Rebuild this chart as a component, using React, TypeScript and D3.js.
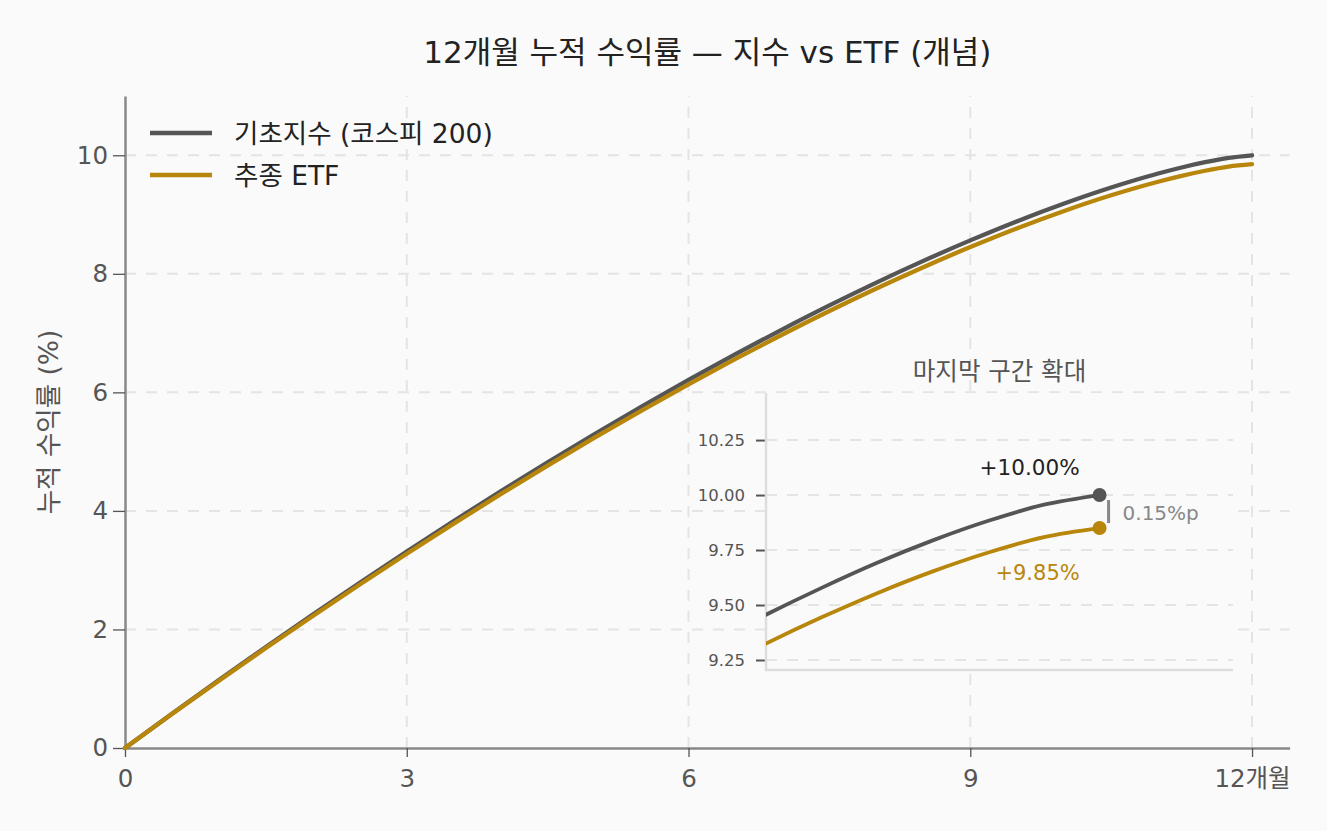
import React, { useRef, useEffect } from 'react'
import * as d3 from 'd3'

// months (half-month steps, quarter steps over the last stretch)
const months = [0, 0.5, 1, 1.5, 2, 2.5, 3, 3.5, 4, 4.5, 5, 5.5, 6, 6.5, 7, 7.5, 8, 8.5, 9, 9.5, 10, 10.5, 10.75, 11, 11.25, 11.5, 11.75, 12]
const indexReturn = [0, 0.578, 1.147, 1.705, 2.253, 2.789, 3.315, 3.829, 4.332, 4.821, 5.298, 5.761, 6.211, 6.645, 7.064, 7.467, 7.852, 8.218, 8.564, 8.888, 9.186, 9.456, 9.578, 9.692, 9.794, 9.883, 9.956, 10.0]
const etfReturn = [0, 0.572, 1.134, 1.686, 2.228, 2.758, 3.277, 3.785, 4.282, 4.765, 5.235, 5.692, 6.136, 6.564, 6.976, 7.373, 7.752, 8.112, 8.451, 8.769, 9.061, 9.325, 9.444, 9.554, 9.653, 9.739, 9.809, 9.85]

const xTicks = [0, 3, 6, 9, 12]
const xTickLabels = ['0', '3', '6', '9', '12개월']
const yTicks = [0, 2, 4, 6, 8, 10]
const insetTicks = [9.25, 9.5, 9.75, 10.0, 10.25]

const seriesNames = ['기초지수 (코스피 200)', '추종 ETF']
const seriesColors = ['#555555', '#b8860b']

const FONT = '"DejaVu Sans", "Noto Sans CJK KR", sans-serif'
const W = 1327
const H = 831

export default function App() {
  const svgRef = useRef<SVGSVGElement>(null)

  useEffect(() => {
    const svg = d3.select(svgRef.current)
    svg.selectAll('*').remove()
    svg.attr('font-family', FONT)

    svg.append('rect').attr('width', W).attr('height', H).attr('fill', '#fafafa')

    const x = d3.scaleLinear().domain([0, 12.4]).range([125, 1289.6])
    const y = d3.scaleLinear().domain([0, 11]).range([748, 96])

    const series = [indexReturn, etfReturn].map((vals, i) => ({
      name: seriesNames[i],
      color: seriesColors[i],
      values: months.map((m, j) => ({ m, v: vals[j] }))
    }))

    // grid
    const grid = svg.append('g')
      .attr('stroke', '#e4e4e4')
      .attr('stroke-width', 2)
      .attr('stroke-dasharray', '11 10')
    grid.selectAll('.gx').data(xTicks.slice(1)).join('line')
      .attr('x1', d => x(d)).attr('x2', d => x(d))
      .attr('y1', y(0)).attr('y2', y(11))
    grid.selectAll('.gy').data(yTicks.slice(1)).join('line')
      .attr('x1', x(0)).attr('x2', x(12.4))
      .attr('y1', d => y(d)).attr('y2', d => y(d))

    // axes
    const xAxis = svg.append('g')
      .attr('transform', `translate(0,${y(0)})`)
      .call(d3.axisBottom(x).tickValues(xTicks).tickFormat((d, i) => xTickLabels[i])
        .tickSizeInner(9).tickSizeOuter(0).tickPadding(13))
    const yAxis = svg.append('g')
      .attr('transform', `translate(${x(0)},0)`)
      .call(d3.axisLeft(y).tickValues(yTicks).tickSizeInner(12).tickSizeOuter(0).tickPadding(5))
    for (const ax of [xAxis, yAxis]) {
      ax.select('.domain').attr('stroke', '#888').attr('stroke-width', 2.5)
      ax.selectAll('.tick line').attr('stroke', '#555').attr('stroke-width', 1.3)
      ax.selectAll('.tick text')
        .attr('fill', '#555')
        .style('font-size', '24.5px')
        .style('font-family', FONT)
    }

    // y label
    svg.append('text')
      .attr('transform', `translate(58,${(y(0) + y(11)) / 2}) rotate(-90)`)
      .attr('text-anchor', 'middle')
      .attr('fill', '#555')
      .style('font-size', '26.5px')
      .text('누적 수익률 (%)')

    // title
    svg.append('text')
      .attr('x', (x(0) + x(12.4)) / 2)
      .attr('y', 63)
      .attr('text-anchor', 'middle')
      .attr('fill', '#222')
      .style('font-size', '31px')
      .text('12개월 누적 수익률 — 지수 vs ETF (개념)')

    const line = d3.line<{ m: number; v: number }>()
      .x(d => x(d.m))
      .y(d => y(d.v))
      .curve(d3.curveMonotoneX)

    svg.append('g').selectAll('path').data(series).join('path')
      .attr('fill', 'none')
      .attr('stroke', d => d.color)
      .attr('stroke-width', 4.3)
      .attr('stroke-linecap', 'round')
      .attr('d', d => line(d.values))

    // legend
    const lg = svg.append('g')
    series.forEach((s, i) => {
      const ly = 133 + i * 42
      lg.append('line').attr('x1', 150).attr('x2', 212).attr('y1', ly).attr('y2', ly)
        .attr('stroke', s.color).attr('stroke-width', 4.3)
      lg.append('text').attr('x', 234).attr('y', ly + 10)
        .attr('fill', '#222').style('font-size', '26.5px').text(s.name)
    })

    // inset
    const ix = d3.scaleLinear().domain([10.5, 12.6]).range([766, 1233])
    const iy = d3.scaleLinear().domain([9.2045, 10.464]).range([670, 393])
    const inset = svg.append('g')

    svg.append('clipPath').attr('id', 'insetClip')
      .append('rect').attr('x', 766).attr('y', 393).attr('width', 1233 - 766).attr('height', 670 - 393)

    inset.append('rect')
      .attr('x', 766).attr('y', 393).attr('width', 1233 - 766).attr('height', 670 - 393)
      .attr('fill', '#fafafa')

    inset.append('g')
      .attr('stroke', '#e4e4e4')
      .attr('stroke-width', 2)
      .attr('stroke-dasharray', '11 10')
      .selectAll('line').data(insetTicks).join('line')
      .attr('x1', 766).attr('x2', 1233)
      .attr('y1', d => iy(d)).attr('y2', d => iy(d))

    const iAxis = inset.append('g')
      .attr('transform', 'translate(766,0)')
      .call(d3.axisLeft(iy).tickValues(insetTicks).tickFormat(d3.format('.2f')).tickSize(10).tickPadding(11))
    iAxis.select('.domain').remove()
    iAxis.selectAll('.tick line').attr('stroke', '#555').attr('stroke-width', 2)
    iAxis.selectAll('.tick text').attr('fill', '#555').style('font-size', '16.5px').style('font-family', FONT)

    inset.append('line').attr('x1', 766).attr('x2', 766).attr('y1', 393).attr('y2', 671)
      .attr('stroke', '#dddddd').attr('stroke-width', 2.5)
    inset.append('line').attr('x1', 765).attr('x2', 1233).attr('y1', 670).attr('y2', 670)
      .attr('stroke', '#dddddd').attr('stroke-width', 2.5)

    const iline = d3.line<{ m: number; v: number }>()
      .x(d => ix(d.m))
      .y(d => iy(d.v))
      .curve(d3.curveMonotoneX)

    inset.append('g').attr('clip-path', 'url(#insetClip)')
      .selectAll('path').data(series).join('path')
      .attr('fill', 'none')
      .attr('stroke', d => d.color)
      .attr('stroke-width', 3.8)
      .attr('d', d => iline(d.values))

    const last = series.map(s => s.values[s.values.length - 1])
    inset.selectAll('circle').data(last).join('circle')
      .attr('cx', d => ix(d.m))
      .attr('cy', d => iy(d.v))
      .attr('r', 7)
      .attr('fill', (d, i) => seriesColors[i])

    inset.append('text')
      .attr('x', ix(last[0].m) - 70).attr('y', iy(last[0].v) - 20)
      .attr('text-anchor', 'middle').attr('fill', '#222')
      .style('font-size', '21.5px')
      .text(`+${last[0].v.toFixed(2)}%`)
    inset.append('text')
      .attr('x', ix(last[1].m) - 62).attr('y', iy(last[1].v) + 52)
      .attr('text-anchor', 'middle').attr('fill', seriesColors[1])
      .style('font-size', '21px')
      .text(`+${last[1].v.toFixed(2)}%`)

    // gap marker
    const gx = ix(last[0].m) + 9
    inset.append('line')
      .attr('x1', gx).attr('x2', gx)
      .attr('y1', iy(last[0].v) + 5).attr('y2', iy(last[1].v) - 5)
      .attr('stroke', '#888').attr('stroke-width', 3)
    inset.append('text')
      .attr('x', gx + 14).attr('y', (iy(last[0].v) + iy(last[1].v)) / 2 + 8)
      .attr('fill', '#888')
      .style('font-size', '20px')
      .text(`${(last[0].v - last[1].v).toFixed(2)}%p`)

    inset.append('text')
      .attr('x', (766 + 1233) / 2).attr('y', 380)
      .attr('text-anchor', 'middle').attr('fill', '#555')
      .style('font-size', '24.5px')
      .text('마지막 구간 확대')
  }, [])

  return (
    <svg
      ref={svgRef}
      width={W}
      height={H}
      style={{ position: 'absolute', left: 0, top: 0, display: 'block' }}
    />
  )
}
